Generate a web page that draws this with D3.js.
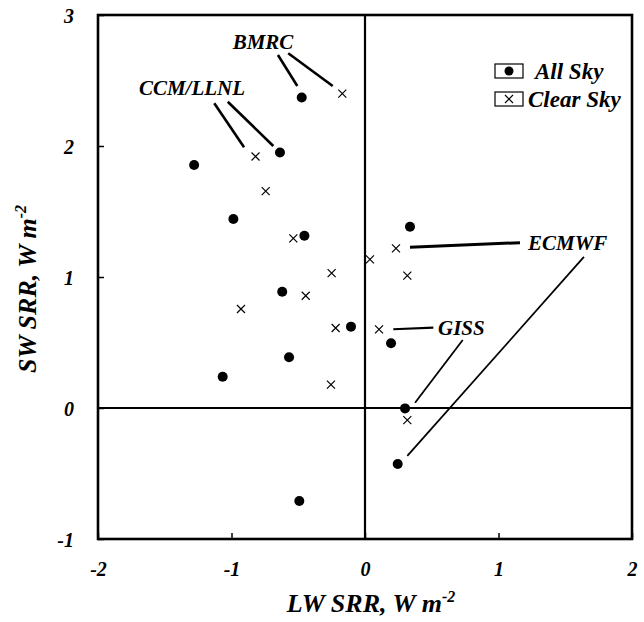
<!DOCTYPE html>
<html>
<head>
<meta charset="utf-8">
<script src="https://cdn.jsdelivr.net/npm/d3@7"></script>
<style>
  html, body { margin: 0; padding: 0; background: #fff; }
  svg text { font-family: "Liberation Serif", "Times New Roman", serif; font-weight: bold; font-style: italic; fill: #000; }
</style>
</head>
<body>
<svg id="chart" width="644" height="622"></svg>
<script>
// Surface radiative response: LW vs SW, per model
const allSkyLW = [-0.474, -0.637, -1.28, -0.986, -0.454, 0.337, -0.62, -0.105, -0.569, -1.066, -0.492, 0.195, 0.30, 0.245];
const allSkySW = [2.37, 1.95, 1.855, 1.443, 1.315, 1.384, 0.888, 0.621, 0.387, 0.239, -0.71, 0.494, -0.003, -0.427];
const clearSkyLW = [-0.17, -0.82, -0.744, -0.537, 0.037, -0.25, 0.232, 0.317, -0.444, -0.929, -0.22, -0.255, 0.105, 0.317];
const clearSkySW = [2.40, 1.92, 1.656, 1.295, 1.135, 1.03, 1.219, 1.01, 0.857, 0.756, 0.611, 0.178, 0.60, -0.092];

const xTicks = [-2, -1, 0, 1, 2];
const yTicks = [-1, 0, 1, 2, 3];

// Model labels and their leader lines, in data units
const modelLabels = [
  { name: "BMRC", x: -0.764, y: 2.794, anchor: "middle" },
  { name: "CCM/LLNL", x: -1.296, y: 2.443, anchor: "middle" },
  { name: "ECMWF", x: 1.221, y: 1.26, anchor: "start" },
  { name: "GISS", x: 0.547, y: 0.611, anchor: "start" }
];
const leaders = [
  { x1: -0.652, y1: 2.695, x2: -0.507, y2: 2.458, w: 2.6 },
  { x1: -0.575, y1: 2.708, x2: -0.242, y2: 2.458, w: 2.6 },
  { x1: -1.129, y1: 2.326, x2: -0.906, y2: 1.99, w: 2.6 },
  { x1: -1.028, y1: 2.338, x2: -0.687, y2: 2.0, w: 2.6 },
  { x1: 0.337, y1: 1.227, x2: 1.161, y2: 1.262, w: 3 },
  { x1: 0.317, y1: -0.366, x2: 1.64, y2: 1.153, w: 1.8 },
  { x1: 0.212, y1: 0.601, x2: 0.512, y2: 0.613, w: 2.2 },
  { x1: 0.732, y1: 0.519, x2: 0.375, y2: 0.04, w: 1.8 }
];

const svg = d3.select("#chart");
const mLeft = 98, mRight = 632, mTop = 15, mBottom = 539;

const x = d3.scaleLinear().domain([-2, 2]).range([mLeft, mRight]);
const y = d3.scaleLinear().domain([-1, 3]).range([mBottom, mTop]);

// zero lines
svg.append("line").attr("x1", x(0)).attr("x2", x(0)).attr("y1", mTop).attr("y2", mBottom)
  .attr("stroke", "#000").attr("stroke-width", 2.2);
svg.append("line").attr("x1", mLeft).attr("x2", mRight).attr("y1", y(0)).attr("y2", y(0))
  .attr("stroke", "#000").attr("stroke-width", 2.2);

// inner ticks
const xAxis = d3.axisBottom(x).tickValues(xTicks).tickSize(-6).tickFormat(d => d);
const gx = svg.append("g").attr("transform", `translate(0,${mBottom})`).call(xAxis);
gx.select(".domain").remove();
gx.selectAll(".tick line").attr("stroke", "#000").attr("stroke-width", 1.5);
gx.selectAll(".tick text").attr("dy", 0).attr("y", 37).style("font-size", "20px")
  .text(d => d < 0 ? "-" + Math.abs(d) : d);

const yAxis = d3.axisLeft(y).tickValues(yTicks).tickSize(-6).tickFormat(d => d);
const gy = svg.append("g").attr("transform", `translate(${mLeft},0)`).call(yAxis);
gy.select(".domain").remove();
gy.selectAll(".tick line").attr("stroke", "#000").attr("stroke-width", 1.5);
gy.selectAll(".tick text").attr("x", -24).attr("dy", "0.35em").style("font-size", "20px")
  .text(d => d < 0 ? "-" + Math.abs(d) : d);

// frame
svg.append("rect").attr("x", mLeft).attr("y", mTop).attr("width", mRight - mLeft).attr("height", mBottom - mTop)
  .attr("fill", "none").attr("stroke", "#000").attr("stroke-width", 2.6);

// leader lines
svg.append("g").selectAll("line").data(leaders).join("line")
  .attr("x1", d => x(d.x1)).attr("y1", d => y(d.y1))
  .attr("x2", d => x(d.x2)).attr("y2", d => y(d.y2))
  .attr("stroke", "#000").attr("stroke-width", d => d.w);

// model labels
svg.append("g").selectAll("text").data(modelLabels).join("text")
  .attr("x", d => x(d.x)).attr("y", d => y(d.y)).attr("dy", "0.35em")
  .attr("text-anchor", d => d.anchor).style("font-size", "21px")
  .text(d => d.name);

// all sky points
const allSky = allSkyLW.map((v, i) => ({ lw: v, sw: allSkySW[i] }));
svg.append("g").selectAll("circle").data(allSky).join("circle")
  .attr("cx", d => x(d.lw)).attr("cy", d => y(d.sw)).attr("r", 5).attr("fill", "#000");

// clear sky points
const clearSky = clearSkyLW.map((v, i) => ({ lw: v, sw: clearSkySW[i] }));
const cs = 4;
svg.append("g").selectAll("path").data(clearSky).join("path")
  .attr("d", d => {
    const cx = x(d.lw), cy = y(d.sw);
    return `M${cx - cs},${cy - cs}L${cx + cs},${cy + cs}M${cx - cs},${cy + cs}L${cx + cs},${cy - cs}`;
  })
  .attr("stroke", "#000").attr("stroke-width", 1.2).attr("fill", "none");

// legend
const legend = svg.append("g");
const legItems = [
  { label: "All Sky", kind: "dot", cy: 71, tx: 535 },
  { label: "Clear Sky", kind: "cross", cy: 99, tx: 528 }
];
legItems.forEach(it => {
  legend.append("rect").attr("x", 495).attr("y", it.cy - 7).attr("width", 28).attr("height", 14)
    .attr("fill", "none").attr("stroke", "#000").attr("stroke-width", 1.2);
  if (it.kind === "dot") {
    legend.append("circle").attr("cx", 509).attr("cy", it.cy).attr("r", 4.5).attr("fill", "#000");
  } else {
    legend.append("path")
      .attr("d", `M${509 - cs},${it.cy - cs}L${509 + cs},${it.cy + cs}M${509 - cs},${it.cy + cs}L${509 + cs},${it.cy - cs}`)
      .attr("stroke", "#000").attr("stroke-width", 1.2);
  }
  legend.append("text").attr("x", it.tx).attr("y", it.cy).attr("dy", "0.35em")
    .style("font-size", "23px").text(it.label);
});

// axis titles
const xt = svg.append("text").attr("x", (mLeft + mRight) / 2 + 6).attr("y", 612)
  .attr("text-anchor", "middle").style("font-size", "26px");
xt.append("tspan").text("LW SRR, W m");
xt.append("tspan").attr("dy", -10).style("font-size", "16px").text("-2");

const yt = svg.append("text").attr("transform", `translate(36,${(mTop + mBottom) / 2 + 12}) rotate(-90)`)
  .attr("text-anchor", "middle").style("font-size", "26px");
yt.append("tspan").text("SW SRR, W m");
yt.append("tspan").attr("dy", -10).style("font-size", "16px").text("-2");
</script>
</body>
</html>
